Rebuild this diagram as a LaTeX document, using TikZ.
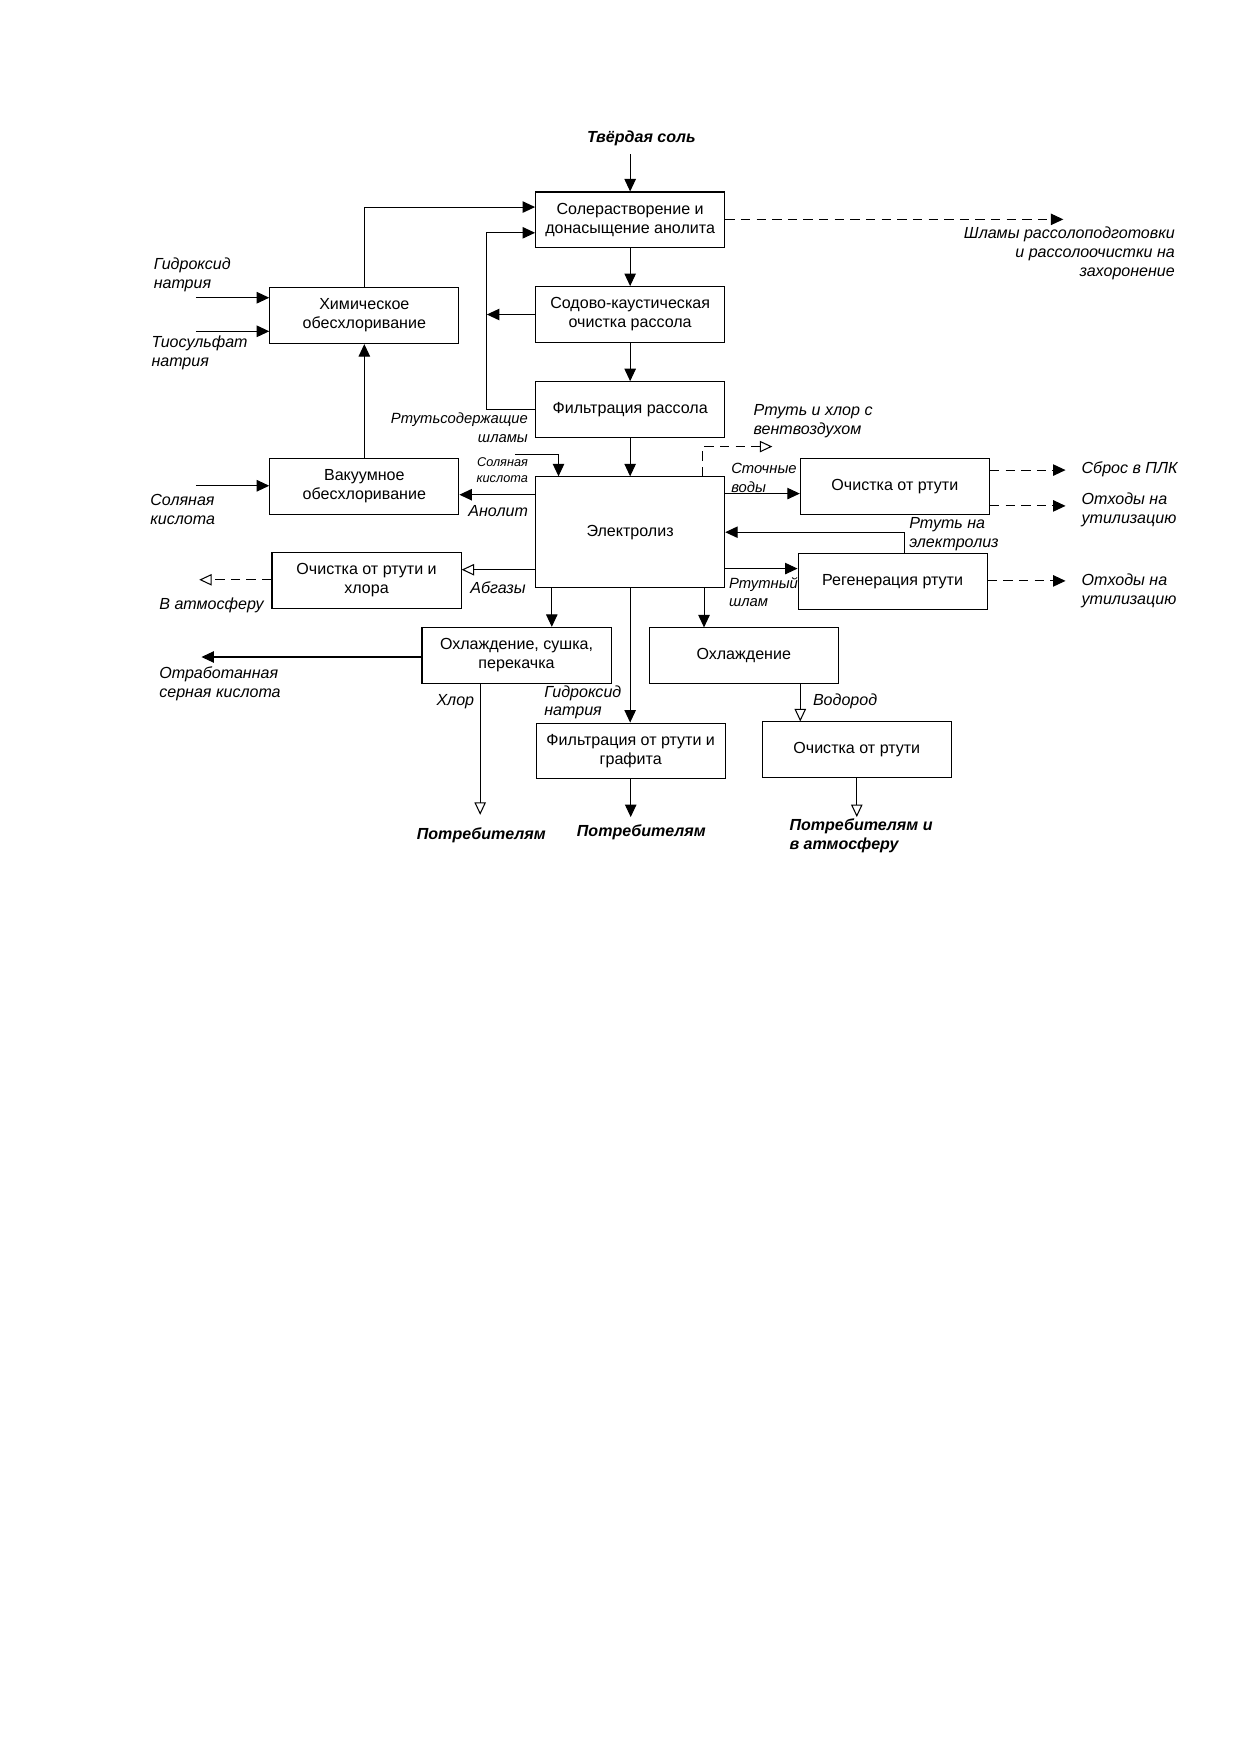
\documentclass[tikz,border=0pt]{standalone}
\usepackage{fontspec}
\setmainfont{Liberation Sans}
\usetikzlibrary{arrows.meta,calc}
\newcommand{\boxfnt}{\fontsize{7.7}{9.1}\selectfont}
\newcommand{\lblfnt}{\fontsize{7.7}{9.1}\selectfont\itshape}
\newcommand{\nlblfnt}{\fontsize{7.1}{9.1}\selectfont\itshape}
\newcommand{\smallfnt}{\fontsize{6.1}{7.7}\selectfont\itshape}
\newcommand{\boldfnt}{\fontsize{7.7}{9.1}\selectfont\bfseries\itshape}
\tikzset{
  pbox/.style={draw, line width=0.5pt, minimum width=90.7pt, minimum height=26.8pt, inner sep=1pt, align=center, font=\boxfnt},
  lbl/.style={font=\lblfnt, align=left, inner sep=0pt},
  lblr/.style={font=\lblfnt, align=right, inner sep=0pt},
  bld/.style={font=\boldfnt, align=left, inner sep=0pt},
  arr/.style={line width=0.5pt, -{Triangle[length=6pt,width=5.5pt]}},
  oarr/.style={line width=0.5pt, -{Triangle[open,length=6pt,width=5.5pt]}},
  dsh/.style={dash pattern=on 4.5pt off 3pt}
}
\begin{document}
\begin{tikzpicture}[x={(0.5368pt,0)}, y={(0,-0.5368pt)}]
\useasboundingbox[fill=white] (0,0) rectangle (1109,1568);

% boxes
\node[pbox] (b1) at (563,196.5) {Солерастворение и\\донасыщение анолита};
\node[pbox] (b2) at (563,281) {Содово-каустическая\\очистка рассола};
\node[pbox] (b3) at (563,366) {Фильтрация рассола};
\node[pbox] (chem) at (325.5,282) {Химическое\\обесхлоривание};
\node[pbox] (vac) at (325.5,434.5) {Вакуумное\\обесхлоривание};
\node[pbox, minimum height=53.1pt] (el) at (563,475.5) {Электролиз};
\node[pbox] (r1) at (799.5,435) {Очистка от ртути};
\node[pbox] (reg) at (797.5,519.5) {Регенерация ртути};
\node[pbox] (ochh) at (327.5,518.5) {Очистка от ртути и\\хлора};
\node[pbox] (cool1) at (461.5,585.5) {Охлаждение, сушка,\\перекачка};
\node[pbox] (filt) at (563.5,671) {Фильтрация от ртути и\\графита};
\node[pbox] (cool2) at (664.5,586) {Охлаждение};
\node[pbox] (r2) at (765.5,670) {Очистка от ртути};

% free ends
\coordinate (salt) at (563,138);
\coordinate (shl) at (950,196);
\coordinate (j1) at (435,281);
\coordinate (naoh) at (175,266);
\coordinate (tio) at (175,296);
\coordinate (hclin) at (175,434);
\coordinate (hcl2) at (460,406);
\coordinate (atm) at (178,518);
\coordinate (vent) at (690,399);
\coordinate (plk) at (952,420);
\coordinate (ot1) at (952,452);
\coordinate (ot2) at (952,519);
\coordinate (h2so4) at (180,587);
\coordinate (cl2) at (429,728);
\coordinate (naohout) at (563,730);
\coordinate (h2out) at (766,730);

% texts
\node[font=\boldfnt, inner sep=0pt] (tsalt) at (573,124) {Твёрдая соль};
\node[lblr, anchor=north east] (tshl) at (1050,202) {Шламы рассолоподготовки\\и рассолоочистки на\\захоронение};
\node[lblr, font=\nlblfnt, anchor=east] (trs) at (472,382) {Ртутьсодержащие\\шламы};
\node[lbl, anchor=west] (tnaoh) at (137,245.5) {Гидроксид\\натрия};
\node[lbl, anchor=west] (ttio) at (135,315.5) {Тиосульфат\\натрия};
\node[lbl, anchor=west] (thcl) at (134,455.5) {Соляная\\кислота};
\node[font=\smallfnt, align=right, inner sep=0pt, anchor=east] (thcl2) at (472,420) {Соляная\\кислота};
\node[lblr, anchor=east] (tan) at (472,457) {Анолит};
\node[lblr, anchor=east] (tab) at (470,525) {Абгазы};
\node[lbl, anchor=west] (tatm) at (142,541) {В атмосферу};
\node[lbl, anchor=west] (tvent) at (673,376.5) {Ртуть и хлор с\\вентвоздухом};
\node[lbl, font=\nlblfnt, anchor=west] (tst) at (653,427) {Сточные\\воды};
\node[lbl, anchor=west] (tplk) at (966,419) {Сброс в ПЛК};
\node[lbl, anchor=west] (tot1) at (966,455.5) {Отходы на\\утилизацию};
\node[lbl, anchor=west] (thg) at (812,477.5) {Ртуть на\\электролиз};
\node[lbl, font=\nlblfnt, anchor=west] (tsh) at (651,529) {Ртутный\\шлам};
\node[lbl, anchor=west] (tot2) at (966,527.5) {Отходы на\\утилизацию};
\node[lbl, anchor=west] (th2so4) at (142,610.5) {Отработанная\\серная кислота};
\node[lblr, anchor=east] (tcl) at (424,627) {Хлор};
\node[lbl, anchor=west] (tnaoh2) at (486,627.5) {Гидроксид\\натрия};
\node[lbl, anchor=west] (th2) at (726,627) {Водород};
\node[font=\boldfnt, inner sep=0pt] (tp1) at (430,746) {Потребителям};
\node[font=\boldfnt, inner sep=0pt] (tp2) at (573,744) {Потребителям};
\node[bld, anchor=west] (tp3) at (705,746.5) {Потребителям и\\в атмосферу};

% connectors
\draw[arr] (salt) -- (b1.north);
\draw[arr, dsh] (b1.east |- shl) -- (shl);
\draw[arr] (b1.south) -- (b2.north);
\draw[arr] (b2.south) -- (b3.north);
\draw[arr] (b3.south) -- (el.north);
\draw[arr] (b3.west) -- (j1 |- b3.west) |- (b1.west |- 0,208);
\draw[arr] (b2.west) -- (j1);
\draw[arr] (chem.north) |- (b1.west |- 0,185);
\draw[arr] (naoh) -- (chem.west |- naoh);
\draw[arr] (tio) -- (chem.west |- tio);
\draw[arr] (vac.north) -- (chem.south);
\draw[arr] (hclin) -- (vac.west |- hclin);
\draw[arr] (hcl2) -| (el.north west -| 499,0);
\draw[arr] (el.west |- 0,442) -- (vac.east |- 0,442);
\draw[oarr] (el.west |- 0,509) -- (ochh.east |- 0,509);
\draw[oarr, dsh] (ochh.west |- atm) -- (atm);
\draw[oarr, dsh] (el.north -| 628,0) |- (vent);
\draw[arr] (el.east |- 0,441) -- (r1.west |- 0,441);
\draw[arr, dsh] (r1.east |- plk) -- (plk);
\draw[arr, dsh] (r1.east |- ot1) -- (ot1);
\draw[arr] (reg.north -| 808,0) |- (el.east);
\draw[arr] (el.east |- 0,508) -- (reg.west |- 0,508);
\draw[arr, dsh] (reg.east |- ot2) -- (ot2);
\draw[arr] (el.south -| 493,0) -- (cool1.north -| 493,0);
\draw[arr] (el.south) -- (filt.north -| el.south);
\draw[arr] (el.south -| 629,0) -- (cool2.north -| 629,0);
\draw[arr] (cool1.west |- h2so4) -- (h2so4);
\draw[oarr] (cool1.south -| cl2) -- (cl2);
\draw[arr] (filt.south) -- (filt.south |- naohout);
\draw[oarr] (cool2.south -| 715,0) -- (r2.north -| 715,0);
\draw[oarr] (r2.south) -- (r2.south |- h2out);
\end{tikzpicture}
\end{document}
